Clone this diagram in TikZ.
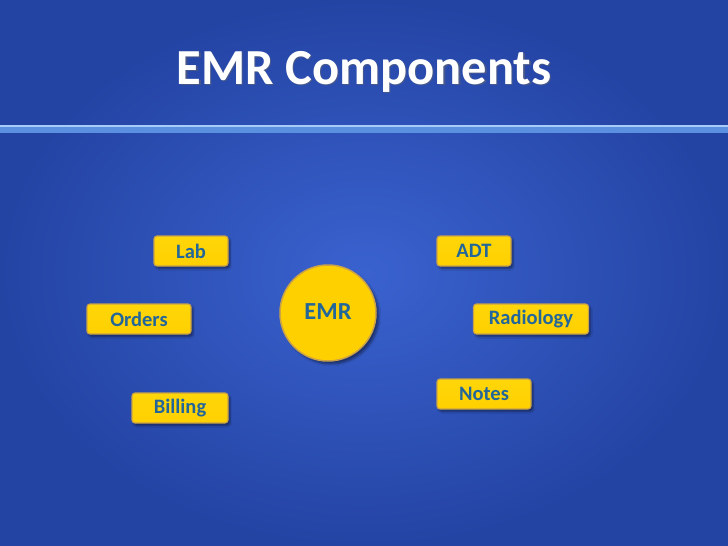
\documentclass[tikz,border=0pt]{standalone}
\usepackage{fontspec}
\setmainfont{Carlito}
\usetikzlibrary{shadows,shadows.blur}
\definecolor{bgedge}{HTML}{2444A4}
\definecolor{bgmid}{HTML}{3A62CF}
\definecolor{lineband}{HTML}{5B8FE0}
\definecolor{linetop}{HTML}{A8CCF8}
\definecolor{boxfill}{HTML}{FFD000}
\definecolor{boxfilltop}{HTML}{FFD60A}
\definecolor{boxedge}{HTML}{C9A24A}
\definecolor{txt}{HTML}{22669A}
\tikzset{
  comp/.style={draw=boxedge, line width=1.2pt, top color=boxfilltop, bottom color=boxfill,
    rounded corners=3pt, text=txt, font=\bfseries\fontsize{20.5}{24}\selectfont,
    inner sep=0pt, minimum height=30pt,
    blur shadow={shadow xshift=2pt, shadow yshift=-2.5pt, shadow blur steps=6, shadow opacity=45}},
  hub/.style={circle, draw=boxedge, line width=1.5pt, fill=boxfill, text=txt,
    font=\bfseries\fontsize{24.5}{28}\selectfont, minimum size=96pt, inner sep=0pt,
    blur shadow={shadow xshift=3pt, shadow yshift=-3pt, shadow blur steps=8, shadow opacity=45}},
  ttl/.style={font=\bfseries\fontsize{50.5}{58}\selectfont, anchor=base},
}
\begin{document}
\begin{tikzpicture}[x=1pt,y=-1pt]
\useasboundingbox (0,0) rectangle (728,546);
\shade[inner color=bgmid, outer color=bgedge] (0,0) rectangle (728,546);
\fill[lineband] (0,126) rectangle (728,133);
\fill[linetop] (0,125) rectangle (728,126.8);
\node[ttl, text=black!60, opacity=0.5] at (365.5,85.5) {EMR Components};
\node (title) [ttl, text=white] at (364,84) {EMR Components};
\node (emr) [hub] at (328,313) {\raisebox{2pt}{EMR}};
\node (lab) [comp, minimum width=74pt] at (191,251) {Lab};
\node (orders) [comp, minimum width=104pt] at (139,319) {Orders};
\node (billing) [comp, minimum width=96pt] at (180,408) {Billing};
\node (adt) [comp, minimum width=74pt] at (474,251) {ADT};
\node (radiology) [comp, minimum width=115pt] at (531,319) {Radiology};
\node (notes) [comp, minimum width=94pt] at (484,394) {Notes};
\end{tikzpicture}
\end{document}
